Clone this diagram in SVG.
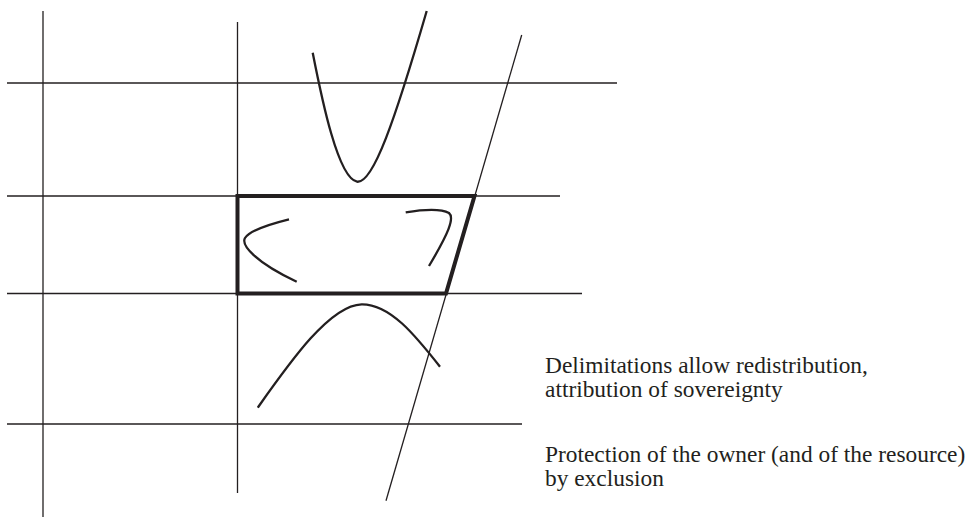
<svg xmlns="http://www.w3.org/2000/svg" width="972" height="518" viewBox="0 0 972 518">
<style>
.grid{stroke:#231f20;stroke-width:1.3;fill:none}
.curve{stroke:#231f20;stroke-width:2.3;fill:none;stroke-linecap:butt}
.box{stroke:#231f20;stroke-width:4;fill:none;stroke-linejoin:miter}
.lbl{font-family:"Liberation Serif","Times New Roman",serif;font-size:23.4px;fill:#231f20}
</style>
<rect width="972" height="518" fill="#fff"/>
<g id="grid">
<line class="grid" x1="43" y1="11" x2="43" y2="517"/>
<line class="grid" x1="237.5" y1="22" x2="237.5" y2="493"/>
<line class="grid" x1="7" y1="83" x2="617" y2="83"/>
<line class="grid" x1="7" y1="196" x2="560" y2="196"/>
<line class="grid" x1="7" y1="293.5" x2="582" y2="293.5"/>
<line class="grid" x1="7" y1="424" x2="522" y2="424"/>
<line class="grid" x1="521.7" y1="35" x2="386" y2="500.7"/>
</g>
<g id="box">
<polygon class="box" points="237.5,196 474.5,196 446,293.5 237.5,293.5"/>
</g>
<g id="curves">
<path class="curve" d="M312.7,52.7 C322,100 338,178 357,181.7 C373,184 395,120 426.7,11"/>
<path class="curve" d="M289,219.3 C270,224 250,230 245,238 C241,245 255,262 296.7,281.7"/>
<path class="curve" d="M405.7,212.3 C420,210 440,208 449,213 C455,218 448,234 429,266"/>
<path class="curve" d="M257.7,407.7 C290,362 330,305 361.7,304.3 C390,304 415,335 440,366.7"/>
</g>
<g id="labels">
<text class="lbl" x="545" y="373">Delimitations allow redistribution,</text>
<text class="lbl" x="545" y="397">attribution of sovereignty</text>
<text class="lbl" x="545" y="462">Protection of the owner (and of the resource)</text>
<text class="lbl" x="545" y="486">by exclusion</text>
</g>
</svg>
